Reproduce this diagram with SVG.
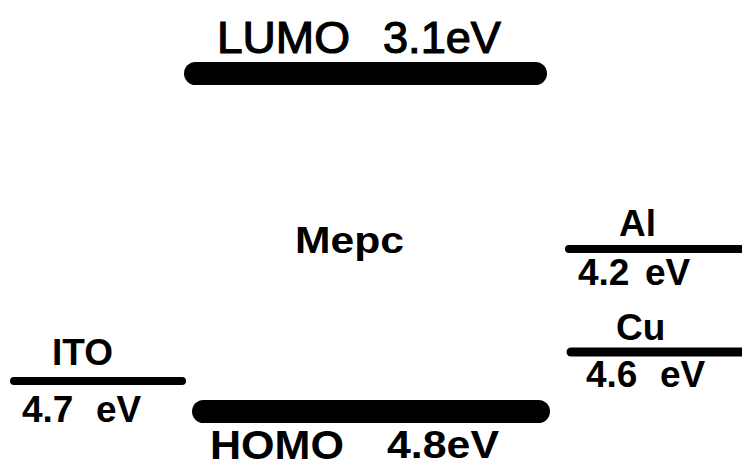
<svg xmlns="http://www.w3.org/2000/svg" width="742" height="470" viewBox="0 0 742 470">
<style>
text{font-family:"Liberation Sans",Arial,sans-serif;fill:#000}
.b{font-weight:bold}
.lu{stroke:#000;stroke-width:1.2}
.lvl{stroke:#000;stroke-linecap:round;fill:none}
</style>
<rect width="742" height="470" fill="#fff"/>
<g id="mepc-lumo">
<rect x="184" y="62" width="363" height="23" rx="11.5" fill="#000"/>
<text class="lu" x="217" y="53" font-size="45" textLength="133" lengthAdjust="spacingAndGlyphs">LUMO</text>
<text class="lu" x="383" y="53" font-size="45" textLength="118" lengthAdjust="spacingAndGlyphs">3.1eV</text>
</g>
<g id="mepc-homo">
<rect x="192" y="400" width="358" height="23" rx="11.5" fill="#000"/>
<text class="b" x="210" y="459" font-size="41" textLength="134" lengthAdjust="spacingAndGlyphs">HOMO</text>
<text class="b" x="387" y="458" font-size="39" textLength="112" lengthAdjust="spacingAndGlyphs">4.8eV</text>
</g>
<g id="mepc">
<text class="b" x="295" y="253" font-size="37" textLength="109" lengthAdjust="spacingAndGlyphs">Mepc</text>
</g>
<g id="ito">
<line class="lvl" x1="14" y1="381" x2="182" y2="381" stroke-width="8"/>
<text class="b" x="52" y="365" font-size="37" textLength="61" lengthAdjust="spacingAndGlyphs">ITO</text>
<text class="b" x="22" y="422" font-size="37">4.7 <tspan x="96">eV</tspan></text>
</g>
<g id="al">
<line class="lvl" x1="569" y1="249" x2="746" y2="249" stroke-width="8"/>
<text class="b" x="619" y="236" font-size="37">Al</text>
<text class="b" x="578" y="285" font-size="37">4.2 <tspan x="645">eV</tspan></text>
</g>
<g id="cu">
<line class="lvl" x1="571" y1="352" x2="746" y2="352" stroke-width="9"/>
<text class="b" x="616" y="340" font-size="37">Cu</text>
<text class="b" x="586" y="387" font-size="37">4.6 <tspan x="660">eV</tspan></text>
</g>
<g id="connectors"/>
</svg>
